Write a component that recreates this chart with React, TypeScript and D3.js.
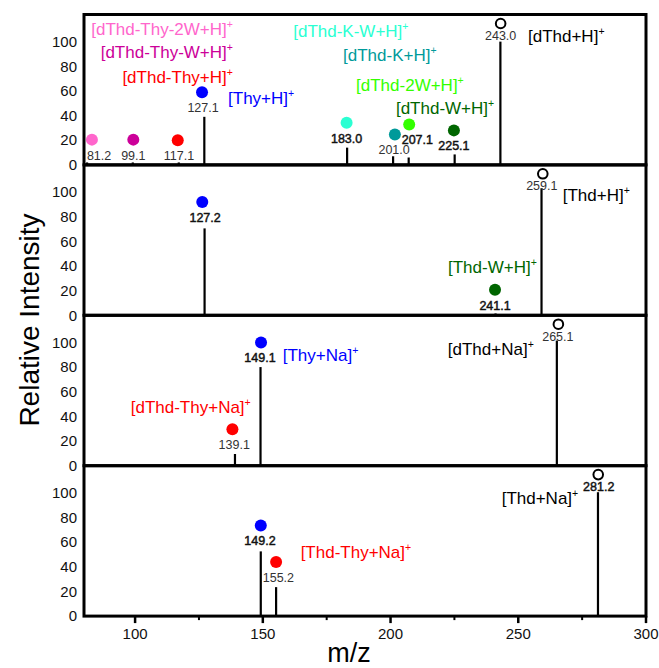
import React, { useEffect, useRef } from 'react';
import * as d3 from 'd3';

// axes
const mzDomain: [number, number] = [80, 300];
const intensityDomain: [number, number] = [0, 122];
const xTickValues = [100, 150, 200, 250, 300];
const xMinorTicks = [125, 175, 225, 275];
const yTickValues = [0, 20, 40, 60, 80, 100];

// peaks per panel (m/z, relative intensity)
const p1Mz = [81.2, 99.1, 117.1, 127.1, 183.0, 201.0, 207.1, 225.1, 243.0];
const p1Int = [2, 2, 2, 39, 14, 7, 6, 8.5, 100];
const p2Mz = [127.2, 241.1, 259.1];
const p2Int = [70.5, 1.5, 103];
const p3Mz = [139.1, 149.1, 265.1];
const p3Int = [9.5, 80, 101.5];
const p4Mz = [149.2, 155.2, 281.2];
const p4Int = [52.5, 23.5, 100.5];

const ionColors: Record<string, string> = {
  pink: '#ff66cc',
  purple: '#cc0099',
  red: '#ff0000',
  blue: '#0000ff',
  cyan: '#2bffd2',
  teal: '#009a9a',
  green: '#33ff00',
  dkgreen: '#006600',
  black: '#000000',
};

interface Marker {
  text: string;
  mz: number;
  y: number;
  labelMz?: number;
  kind: string; // 'black' = open circle
  bold?: boolean;
}

interface IonLabel {
  text: string;
  mz: number;
  y: number;
  kind: string;
  anchor?: string;
}

// annotation dots + m/z values
const p1Markers: Marker[] = [
  { text: '81.2', mz: 83.1, y: 20.5, labelMz: 85.9, kind: 'pink' },
  { text: '99.1', mz: 99.3, y: 20.5, kind: 'purple' },
  { text: '117.1', mz: 116.7, y: 19.9, labelMz: 117.2, kind: 'red' },
  { text: '127.1', mz: 126.2, y: 59, labelMz: 126.6, kind: 'blue' },
  { text: '183.0', mz: 182.8, y: 34.2, kind: 'cyan', bold: true },
  { text: '201.0', mz: 201.7, y: 24.7, labelMz: 201.4, kind: 'teal' },
  { text: '207.1', mz: 207.3, y: 32.8, labelMz: 210.5, kind: 'green', bold: true },
  { text: '225.1', mz: 224.8, y: 28, kind: 'dkgreen', bold: true },
  { text: '243.0', mz: 243.1, y: 114.7, kind: 'black' },
];
const p2Markers: Marker[] = [
  { text: '127.2', mz: 126.3, y: 91.9, labelMz: 127.4, kind: 'blue', bold: true },
  { text: '241.1', mz: 240.9, y: 20.8, kind: 'dkgreen', bold: true },
  { text: '259.1', mz: 259.6, y: 114.8, labelMz: 259.2, kind: 'black' },
];
const p3Markers: Marker[] = [
  { text: '149.1', mz: 149.3, y: 100, labelMz: 148.9, kind: 'blue', bold: true },
  { text: '139.1', mz: 138.1, y: 29.5, labelMz: 138.8, kind: 'red' },
  { text: '265.1', mz: 265.7, y: 114.8, labelMz: 265.5, kind: 'black' },
];
const p4Markers: Marker[] = [
  { text: '149.2', mz: 149.2, y: 73.5, labelMz: 148.9, kind: 'blue', bold: true },
  { text: '155.2', mz: 155.2, y: 43.8, labelMz: 156.1, kind: 'red' },
  { text: '281.2', mz: 281.3, y: 114.8, labelMz: 281.5, kind: 'black', bold: true },
];

// ion names (left/right anchor in m/z, centre height in intensity units)
const p1Ions: IonLabel[] = [
  { text: '[dThd-Thy-2W+H]', mz: 138.3, y: 110.6, kind: 'pink', anchor: 'end' },
  { text: '[dThd-Thy-W+H]', mz: 138.3, y: 91.2, kind: 'purple', anchor: 'end' },
  { text: '[dThd-Thy+H]', mz: 138.3, y: 70.9, kind: 'red', anchor: 'end' },
  { text: '[Thy+H]', mz: 136.4, y: 54.5, kind: 'blue' },
  { text: '[dThd-K-W+H]', mz: 161.9, y: 108.4, kind: 'cyan' },
  { text: '[dThd-K+H]', mz: 181.4, y: 89.5, kind: 'teal' },
  { text: '[dThd-2W+H]', mz: 186.5, y: 64.4, kind: 'green' },
  { text: '[dThd-W+H]', mz: 202.1, y: 46.4, kind: 'dkgreen' },
  { text: '[dThd+H]', mz: 253.8, y: 104.4, kind: 'black' },
];
const p2Ions: IonLabel[] = [
  { text: '[Thd+H]', mz: 267.4, y: 97.6, kind: 'black' },
  { text: '[Thd-W+H]', mz: 222.5, y: 39.2, kind: 'dkgreen' },
];
const p3Ions: IonLabel[] = [
  { text: '[Thy+Na]', mz: 157.8, y: 89.7, kind: 'blue' },
  { text: '[dThd-Thy+Na]', mz: 98.3, y: 47.8, kind: 'red' },
  { text: '[dThd+Na]', mz: 222.4, y: 94.3, kind: 'black' },
];
const p4Ions: IonLabel[] = [
  { text: '[Thd-Thy+Na]', mz: 164.8, y: 51.9, kind: 'red' },
  { text: '[Thd+Na]', mz: 243.5, y: 95.9, kind: 'black' },
];

const panels = [
  { mz: p1Mz, int: p1Int, markers: p1Markers, ions: p1Ions },
  { mz: p2Mz, int: p2Int, markers: p2Markers, ions: p2Ions },
  { mz: p3Mz, int: p3Int, markers: p3Markers, ions: p3Ions },
  { mz: p4Mz, int: p4Int, markers: p4Markers, ions: p4Ions },
];

const FONT = "'Liberation Sans', Arial, sans-serif";

const App: React.FC = () => {
  const svgRef = useRef<SVGSVGElement>(null);

  useEffect(() => {
    if (!svgRef.current) return;
    const svg = d3.select(svgRef.current);
    svg.selectAll('*').remove();

    const left = 84;
    const right = 646;
    const top = 14.5;
    const panelH = 150.4;

    const x = d3.scaleLinear().domain(mzDomain).range([left, right]);

    panels.forEach((p, i) => {
      const y0 = top + i * panelH;
      const y = d3.scaleLinear().domain(intensityDomain).range([y0 + panelH, y0]);
      const g = svg.append('g');

      // peaks
      g.selectAll('.peak')
        .data(p.mz)
        .enter()
        .append('line')
        .attr('x1', (d) => x(d))
        .attr('x2', (d) => x(d))
        .attr('y1', y(0))
        .attr('y2', (d, j) => y(p.int[j]))
        .attr('stroke', '#000')
        .attr('stroke-width', 2.2);

      // y tick labels
      g.selectAll('.ytick')
        .data(yTickValues)
        .enter()
        .append('text')
        .attr('x', left - 7)
        .attr('y', (d) => y(d))
        .attr('dy', '0.35em')
        .attr('text-anchor', 'end')
        .attr('font-family', FONT)
        .attr('font-size', 15)
        .attr('fill', '#111')
        .text((d) => d);

      // markers
      const m = g.selectAll('.marker').data(p.markers).enter().append('g');
      m.append('circle')
        .attr('cx', (d) => x(d.mz))
        .attr('cy', (d) => y(d.y))
        .attr('r', (d) => (d.kind === 'black' ? 4.8 : 6))
        .attr('fill', (d) => (d.kind === 'black' ? '#fff' : ionColors[d.kind]))
        .attr('stroke', (d) => (d.kind === 'black' ? '#000' : 'none'))
        .attr('stroke-width', 2);
      m.append('text')
        .attr('x', (d) => x(d.labelMz ?? d.mz))
        .attr('y', (d) => y(d.y) + (d.kind === 'black' ? 12 : 15.5))
        .attr('dy', '0.35em')
        .attr('text-anchor', 'middle')
        .attr('font-family', FONT)
        .attr('font-size', 12.5)
        .attr('fill', (d) => (d.bold ? '#111' : '#333'))
        .attr('stroke', (d) => (d.bold ? '#111' : 'none'))
        .attr('stroke-width', 0.45)
        .text((d) => d.text);

      // ion labels
      const t = g
        .selectAll('.ion')
        .data(p.ions)
        .enter()
        .append('text')
        .attr('x', (d) => x(d.mz))
        .attr('y', (d) => y(d.y))
        .attr('dy', '0.35em')
        .attr('text-anchor', (d) => d.anchor ?? 'start')
        .attr('font-family', FONT)
        .attr('font-size', 17)
        .attr('fill', (d) => ionColors[d.kind]);
      t.append('tspan').text((d) => d.text);
      t.append('tspan')
        .attr('font-size', 10.5)
        .attr('dy', -7)
        .text('+');

      // frame
      g.append('rect')
        .attr('x', left)
        .attr('y', y0)
        .attr('width', right - left)
        .attr('height', panelH)
        .attr('fill', 'none')
        .attr('stroke', '#000')
        .attr('stroke-width', 3);
    });

    const bottom = top + 4 * panelH;

    // x axis ticks
    svg.selectAll('.xmaj')
      .data(xTickValues)
      .enter()
      .append('line')
      .attr('x1', (d) => x(d))
      .attr('x2', (d) => x(d))
      .attr('y1', bottom)
      .attr('y2', bottom + 7)
      .attr('stroke', '#000')
      .attr('stroke-width', 2.5);
    svg.selectAll('.xmin')
      .data(xMinorTicks)
      .enter()
      .append('line')
      .attr('x1', (d) => x(d))
      .attr('x2', (d) => x(d))
      .attr('y1', bottom)
      .attr('y2', bottom + 4)
      .attr('stroke', '#000')
      .attr('stroke-width', 2);
    svg.selectAll('.xlab')
      .data(xTickValues)
      .enter()
      .append('text')
      .attr('x', (d) => x(d))
      .attr('y', bottom + 18)
      .attr('dy', '0.35em')
      .attr('text-anchor', 'middle')
      .attr('font-family', FONT)
      .attr('font-size', 15)
      .attr('fill', '#111')
      .text((d) => d);

    // axis titles
    svg.append('text')
      .attr('transform', `translate(39,320) rotate(-90)`)
      .attr('text-anchor', 'middle')
      .attr('font-family', FONT)
      .attr('font-size', 28)
      .attr('fill', '#000')
      .text('Relative Intensity');
    svg.append('text')
      .attr('x', 349)
      .attr('y', 662)
      .attr('text-anchor', 'middle')
      .attr('font-family', FONT)
      .attr('font-size', 27)
      .attr('fill', '#000')
      .text('m/z');
  }, []);

  return (
    <svg
      ref={svgRef}
      width={659}
      height={668}
      style={{ position: 'absolute', left: 0, top: 0, background: '#fff' }}
    />
  );
};

export default App;
